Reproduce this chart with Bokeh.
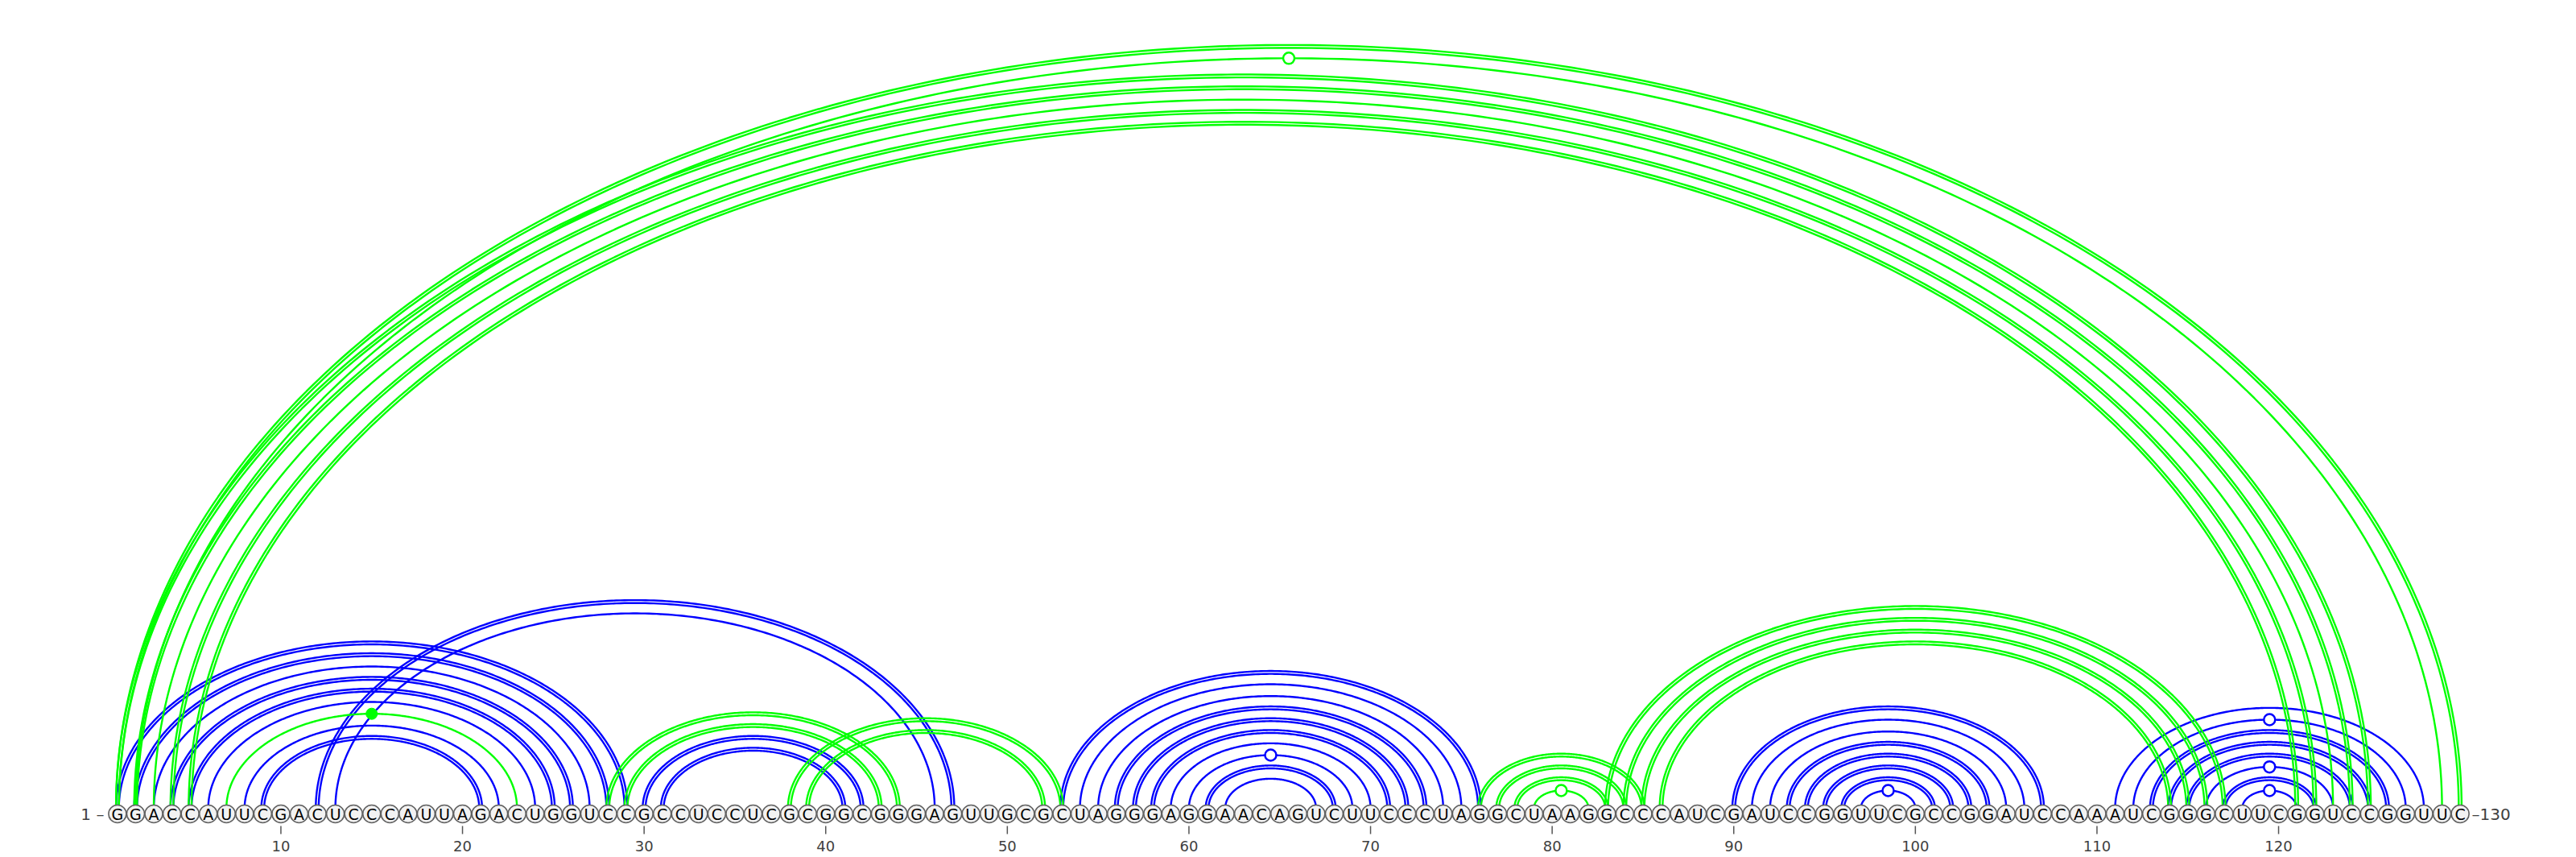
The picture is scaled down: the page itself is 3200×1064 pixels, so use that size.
import numpy as np
from bokeh.plotting import figure
from bokeh.models import Range1d
from bokeh.core.properties import value
from bokeh.embed import file_html
from bokeh.resources import INLINE

# RNA sequence (130 nt)
sequence = ("GGACCAUUCGACUCCCAUUAGACUGGUCCGCCUCCUCGCGGCGGGAGUUGCGCUAGGGAGGAACAG"
            "UCUUCCCUAGGCUAAGGCCCAUCGAUCCGGUUCGCCGGAUCCAAAUCGGGCUUCGGUCCGGUUC")

# base pairs of the two structures
blue_pairs = [
    (1, 29), (2, 28), (3, 27), (4, 26), (5, 25), (6, 24), (8, 22), (9, 21),
    (12, 47), (13, 46),
    (30, 42), (31, 41),
    (53, 76), (54, 75), (55, 74), (56, 73), (57, 72), (58, 71), (59, 70),
    (60, 69), (61, 68), (62, 67),
    (90, 107), (91, 106), (92, 105), (93, 104), (94, 103), (95, 102),
    (96, 101), (97, 100),
    (111, 128), (112, 127), (113, 126), (114, 125), (115, 124), (116, 123),
    (117, 122), (118, 121),
]
green_pairs = [
    (1, 130), (2, 129), (1, 125), (2, 124), (3, 123), (4, 122), (5, 121),
    (7, 23),
    (28, 44), (29, 43), (38, 53), (39, 52),
    (76, 85), (77, 84), (78, 83), (79, 82),
    (83, 117), (84, 116), (85, 115), (86, 114),
]
tick_positions = [10, 20, 30, 40, 50, 60, 70, 80, 90, 100, 110, 120]

BLUE = "#0000ff"
GREEN = "#00ff00"
W, H = 3200, 1060
PX = 22.56          # pixels per nucleotide
X0 = 145.4          # pixel x of nucleotide 1
BASE_Y = H - 1003   # arc foot (px from bottom)
NT_Y = H - 1010     # nucleotide circle centre
RATIO = 0.65        # arc height / half width

n = len(sequence)
positions = list(range(1, n + 1))


def pair_kind(i, j):
    s = {sequence[i - 1], sequence[j - 1]}
    if s == {"G", "C"}:
        return "gc"
    if s == {"A", "U"}:
        return "au"
    if s == {"G", "U"}:
        return "gu"
    return "other"


def arc_xy(i, j, off=0.0):
    t = np.linspace(0, np.pi, 240)
    half = (j - i) / 2
    a = half + off / PX
    b = RATIO * half * PX + off
    cx = (i + j) / 2
    return list(cx - a * np.cos(t)), list(BASE_Y + b * np.sin(t))


def draw_pairs(p, pairs, color):
    xs, ys = [], []
    open_x, open_y, fill_x, fill_y = [], [], [], []
    for i, j in pairs:
        kind = pair_kind(i, j)
        offs = [-1.8, 1.8] if kind == "gc" else [0.0]
        for o in offs:
            x, y = arc_xy(i, j, o)
            xs.append(x)
            ys.append(y)
        apex = BASE_Y + RATIO * (j - i) / 2 * PX
        if kind == "gu":
            open_x.append((i + j) / 2)
            open_y.append(apex)
        elif kind == "other":
            fill_x.append((i + j) / 2)
            fill_y.append(apex)
    p.multi_line(xs, ys, line_color=color, line_width=2.4)
    return open_x, open_y, fill_x, fill_y


x_start = 1 - X0 / PX
p = figure(width=W, height=H, output_backend="svg", toolbar_location=None,
           x_axis_location=None, y_axis_location=None, min_border=0,
           x_range=Range1d(x_start, x_start + W / PX),
           y_range=Range1d(0, H))
p.outline_line_color = None
p.background_fill_color = "white"
p.xgrid.visible = False
p.ygrid.visible = False

markers = []
for pairs, color in [(blue_pairs, BLUE), (green_pairs, GREEN)]:
    markers.append((draw_pairs(p, pairs, color), color))

for (ox, oy, fx, fy), color in markers:
    if ox:
        p.scatter(ox, oy, size=14, fill_color="white", line_color=color, line_width=2.5)
    if fx:
        p.scatter(fx, fy, size=14, fill_color=color, line_color=color, line_width=1)

# backbone nucleotides
p.scatter(positions, [NT_Y] * n, size=22, fill_color="#f2f2f2",
          line_color="#606060", line_width=1.6)
p.text(positions, [NT_Y] * n, text=list(sequence), text_align="center",
       text_baseline="middle", text_font_size="19px",
       text_font=value("DejaVu Sans"), text_color="black")

# position ticks
p.segment(tick_positions, [H - 1025] * len(tick_positions), tick_positions,
          [H - 1035] * len(tick_positions), line_color="#555555", line_width=1.5)
p.text(tick_positions, [H - 1050] * len(tick_positions),
       text=[str(t) for t in tick_positions], text_align="center",
       text_baseline="alphabetic", text_font_size="18px",
       text_font=value("DejaVu Sans"), text_color="#404040")

# end labels
p.text([1 - 0.73], [NT_Y], text=["1 \u2013"], text_align="right",
       text_baseline="middle", text_font_size="20px",
       text_font=value("DejaVu Sans"), text_color="#404040")
p.text([n + 0.64], [NT_Y], text=["\u2013" + str(n)], text_align="left",
       text_baseline="middle", text_font_size="20px",
       text_font=value("DejaVu Sans"), text_color="#404040")

open("out.html", "w").write(file_html(p, INLINE))
